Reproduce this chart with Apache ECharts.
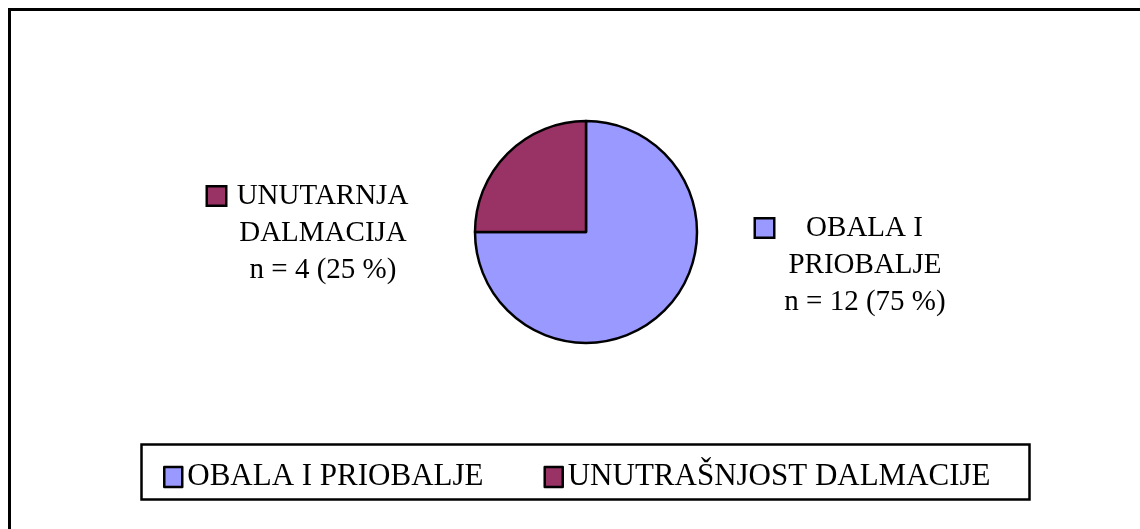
<!DOCTYPE html>
<html lang="hr">
<head>
<meta charset="UTF-8">
<title>Obala i priobalje / unutrašnjost Dalmacije</title>
<style>
    body { margin: 0; background: #fff; }
    #chart { width: 1140px; height: 529px; }
</style>
<script src="https://cdn.jsdelivr.net/npm/echarts@6/dist/echarts.min.js"></script>
</head>
<body>
<div id="chart"></div>
<script>
// podaci
const categories = ['OBALA I PRIOBALJE', 'UNUTRAŠNJOST DALMACIJE'];
const labelNames = [['OBALA I', 'PRIOBALJE'], ['UNUTARNJA', 'DALMACIJA']];
const counts = [12, 4];
const colors = ['#9999FF', '#993366'];

const FONT = '"Liberation Serif", "Times New Roman", serif';

const chart = echarts.init(document.getElementById('chart'));

// rich stilovi za oznake (kvadratić + centrirani tekst)
const rich = {
    gap: { width: 8, lineHeight: 37 },
    pad: { width: 26, lineHeight: 37 },
    t0: { width: 166, align: 'center', fontSize: 29, fontFamily: FONT, color: '#000', lineHeight: 37 },
    t1: { width: 178, align: 'center', fontSize: 29, fontFamily: FONT, color: '#000', lineHeight: 37 }
};
colors.forEach((c, i) => {
    rich['mk' + i] = { width: 17, height: 17, backgroundColor: c, borderColor: '#000', borderWidth: 2.5, lineHeight: 37 };
});

chart.setOption({
    animation: false,
    backgroundColor: '#fff',
    graphic: [
        {
            type: 'rect', z: -1,
            shape: { x: 9.5, y: 9.5, width: 1200, height: 600 },
            style: { fill: 'none', stroke: '#000', lineWidth: 3 }
        },
        {
            type: 'rect', z: -1,
            shape: { x: 141.5, y: 444.5, width: 888, height: 55 },
            style: { fill: 'none', stroke: '#000', lineWidth: 2.5 }
        }
    ],
    legend: {
        left: 158,
        top: 455,
        itemGap: 60,
        itemWidth: 18,
        itemHeight: 20,
        icon: 'rect',
        itemStyle: { borderColor: '#000', borderWidth: 2.5 },
        textStyle: { fontFamily: FONT, fontSize: 31, color: '#000', lineHeight: 34 },
        data: categories
    },
    series: [{
        type: 'pie',
        center: [586, 232],
        radius: 111,
        startAngle: 90,
        clockwise: true,
        silent: true,
        avoidLabelOverlap: false,
        itemStyle: { borderColor: '#000', borderWidth: 2.5 },
        labelLine: { show: false },
        label: {
            show: true,
            position: 'outside',
            lineHeight: 37,
            rich: rich,
            formatter: p => {
                const i = p.dataIndex;
                const lines = [labelNames[i][0], labelNames[i][1],
                    'n = ' + p.value + ' (' + Math.round(p.percent) + ' %)'];
                return '{mk' + i + '|}{gap|}{t' + i + '|' + lines[0] + '}\n' +
                       '{pad|}{t' + i + '|' + lines[1] + '}\n' +
                       '{pad|}{t' + i + '|' + lines[2] + '}';
            }
        },
        labelLayout: p => p.dataIndex === 0
            ? { x: 756, y: 265, align: 'left', verticalAlign: 'middle' }
            : { x: 208, y: 233, align: 'left', verticalAlign: 'middle' },
        data: categories.map((name, i) => ({
            name: name,
            value: counts[i],
            itemStyle: { color: colors[i] }
        }))
    }]
});
</script>
</body>
</html>
